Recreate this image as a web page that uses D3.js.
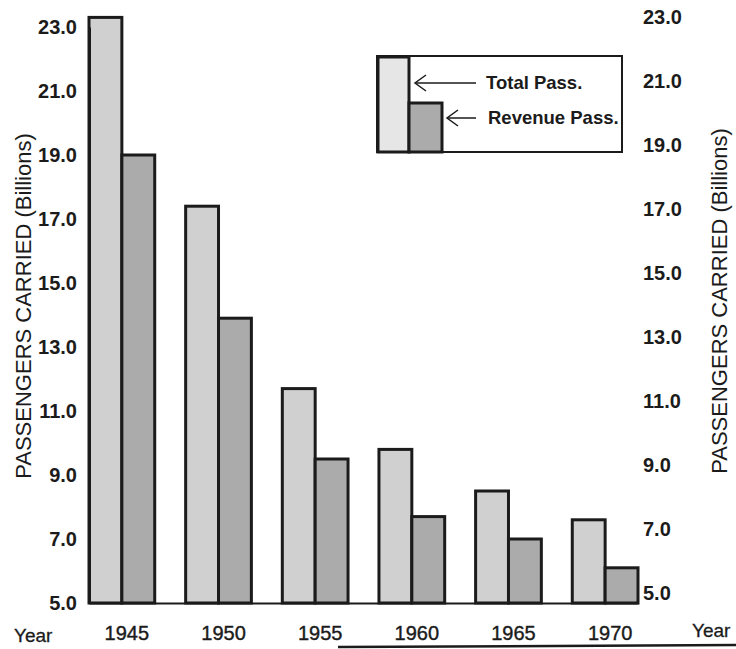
<!DOCTYPE html>
<html><head><meta charset="utf-8">
<script src="https://cdn.jsdelivr.net/npm/d3@7"></script>
<style>body{margin:0;background:#fff}svg{display:block}</style></head>
<body><svg id="c" width="736" height="649"></svg>
<script>
const years = ["1945", "1950", "1955", "1960", "1965", "1970"];
const totalPass = [23.3, 17.4, 11.7, 9.8, 8.5, 7.6];
const revenuePass = [19.0, 13.9, 9.5, 7.7, 7.0, 6.1];
const yTicks = [5, 7, 9, 11, 13, 15, 17, 19, 21, 23];
const seriesKeys = ["total", "revenue"];
const legendLabels = ["Total Pass.", "Revenue Pass."];
const axisTitle = "PASSENGERS CARRIED (Billions)";
const xTitle = "Year";

const svg = d3.select("#c");
const FONT = "'Liberation Sans', Arial, Helvetica, sans-serif";
const fills = {total: "#d0d0d0", revenue: "#ababab"};
const ink = "#1b1b1b";

const x = d3.scaleBand().domain(years).range([89, 638]).paddingInner(0.32).paddingOuter(0).align(0);
const sub = d3.scaleBand().domain(seriesKeys).range([0, x.bandwidth()]);
const y = d3.scaleLinear().domain([5, 23]).range([603, 27]);
const yR = d3.scaleLinear().domain([5, 23]).range([593, 17]);

// bars
const data = years.map((yr, i) => ({yr, total: totalPass[i], revenue: revenuePass[i]}));
const g = svg.append("g");
data.forEach(d => {
  seriesKeys.forEach(k => {
    g.append("rect")
      .attr("x", x(d.yr) + sub(k))
      .attr("y", y(d[k]))
      .attr("width", sub.bandwidth())
      .attr("height", y(5) - y(d[k]))
      .attr("fill", fills[k])
      .attr("stroke", ink)
      .attr("stroke-width", 3);
  });
});

function styleTicks(sel, size, bold) {
  sel.selectAll("text").attr("font-family", FONT).attr("font-size", size)
    .attr("font-weight", bold ? "bold" : "normal").attr("fill", ink);
}

// left axis
const ax = svg.append("g").attr("transform", "translate(89,0)")
  .call(d3.axisLeft(y).tickValues(yTicks).tickFormat(d3.format(".1f")).tickSize(0).tickPadding(12));
ax.select(".domain").attr("stroke", ink).attr("stroke-width", 3);
styleTicks(ax, 20, true);

// right axis
const axR = svg.append("g").attr("transform", "translate(640,0)")
  .call(d3.axisRight(yR).tickValues(yTicks).tickFormat(d3.format(".1f")).tickSize(0).tickPadding(3));
axR.select(".domain").remove();
styleTicks(axR, 20, true);

// bottom axis
const axB = svg.append("g").attr("transform", "translate(0,603)")
  .call(d3.axisBottom(x).tickSize(0).tickSizeOuter(0).tickPadding(23));
axB.select(".domain").attr("stroke", ink).attr("stroke-width", 2);
styleTicks(axB, 20, false);
axB.selectAll("text").attr("stroke", ink).attr("stroke-width", 0.4).attr("transform", "translate(5,0)");

// axis titles
svg.append("text").attr("transform", "translate(23,306) rotate(-90)")
  .attr("text-anchor", "middle").attr("dy", "0.35em")
  .attr("font-family", FONT).attr("font-size", 22).attr("fill", ink).text(axisTitle);
svg.append("text").attr("transform", "translate(719,301) rotate(-90)")
  .attr("text-anchor", "middle").attr("dy", "0.35em")
  .attr("font-family", FONT).attr("font-size", 22).attr("fill", ink).text(axisTitle);
svg.append("text").attr("x", 14).attr("y", 635).attr("dy", "0.35em")
  .attr("font-family", FONT).attr("font-size", 19).attr("fill", ink)
  .attr("stroke", ink).attr("stroke-width", 0.3).text(xTitle);
svg.append("text").attr("x", 692).attr("y", 630).attr("dy", "0.35em")
  .attr("font-family", FONT).attr("font-size", 19).attr("fill", ink)
  .attr("stroke", ink).attr("stroke-width", 0.3).text(xTitle);

// legend
const lg = svg.append("g");
lg.append("rect").attr("x", 377).attr("y", 56).attr("width", 245).attr("height", 96)
  .attr("fill", "#fff").attr("stroke", ink).attr("stroke-width", 2);
lg.append("rect").attr("x", 378).attr("y", 57).attr("width", 31).attr("height", 95)
  .attr("fill", "#e6e6e6").attr("stroke", ink).attr("stroke-width", 3);
lg.append("rect").attr("x", 409).attr("y", 103).attr("width", 33).attr("height", 49)
  .attr("fill", fills.revenue).attr("stroke", ink).attr("stroke-width", 3);
const arrows = [{x1: 415, x2: 476, yy: 83}, {x1: 447, x2: 476, yy: 118}];
const textX = [486, 488];
legendLabels.forEach((t, i) => {
  const a = arrows[i];
  lg.append("line").attr("x1", a.x1).attr("x2", a.x2).attr("y1", a.yy).attr("y2", a.yy)
    .attr("stroke", ink).attr("stroke-width", 1.5);
  lg.append("path").attr("d", `M${a.x1 + 11},${a.yy - 8} L${a.x1},${a.yy} L${a.x1 + 11},${a.yy + 8}`)
    .attr("fill", "none").attr("stroke", ink).attr("stroke-width", 1.5);
  lg.append("text").attr("x", textX[i]).attr("y", a.yy).attr("dy", "0.35em")
    .attr("font-family", FONT).attr("font-size", 18.5).attr("font-weight", "bold").attr("fill", ink).text(t);
});

// page rule
svg.append("line").attr("x1", 338).attr("x2", 736).attr("y1", 647).attr("y2", 645)
  .attr("stroke", ink).attr("stroke-width", 2.5);
</script>
</body></html>
